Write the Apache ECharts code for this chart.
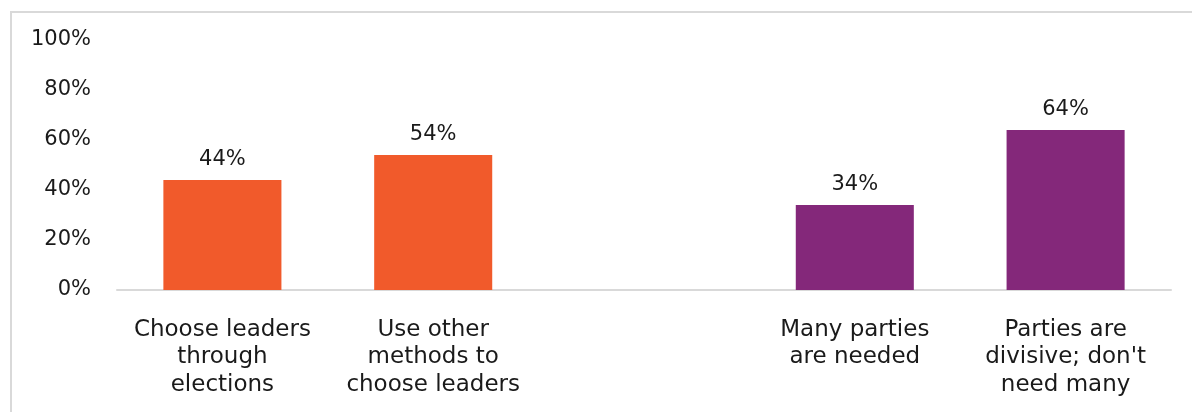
<!DOCTYPE html>
<html>
<head>
<meta charset="utf-8">
<script src="https://cdn.jsdelivr.net/npm/echarts@6/dist/echarts.min.js"></script>
<style>
  html, body { margin: 0; padding: 0; background: #fff; }
  #frame { position: absolute; left: 10px; top: 11px; width: 1200px; height: 420px;
           border-left: 2px solid #d9d9d9; border-top: 2px solid #d9d9d9; box-sizing: border-box; }
  #chart { position: absolute; left: 0; top: 0; width: 1192px; height: 412px; }
</style>
</head>
<body>
<div id="frame"></div>
<div id="chart"></div>
<script>
// Survey answers, two questions side by side with an empty slot between them
const categories = [
  'Choose leaders\nthrough\nelections',
  'Use other\nmethods to\nchoose leaders',
  '',
  'Many parties\nare needed',
  "Parties are\ndivisive; don't\nneed many"
];
const values = [44, 54, null, 34, 64];
const barColors = ['#F15A2B', '#F15A2B', '#F15A2B', '#84287A', '#84287A'];
const yTicks = [0, 20, 40, 60, 80, 100];

const font = 'DejaVu Sans';
const chart = echarts.init(document.getElementById('chart'), null, { renderer: 'canvas' });
chart.setOption({
  animation: false,
  grid: { left: 117, right: 21, top: 40, bottom: 122, containLabel: false },
  xAxis: {
    type: 'category',
    data: categories,
    axisLine: { lineStyle: { color: '#d9d9d9', width: 2 } },
    axisTick: { show: false },
    axisLabel: {
      interval: 0, margin: 26, color: '#1a1a1a',
      fontFamily: font, fontSize: 23, lineHeight: 27.5
    }
  },
  yAxis: {
    type: 'value', min: yTicks[0], max: yTicks[yTicks.length - 1], interval: 20,
    axisLine: { show: false }, axisTick: { show: false }, splitLine: { show: false },
    axisLabel: {
      margin: 26, color: '#1a1a1a', fontFamily: font, fontSize: 21,
      padding: [4, 0, 0, 0],
      formatter: v => v + '%'
    }
  },
  series: [{
    type: 'bar',
    barWidth: '56%',
    data: values.map((v, i) => ({ value: v, itemStyle: { color: barColors[i] } })),
    label: {
      show: true, position: 'top', distance: 10, color: '#1a1a1a',
      fontFamily: font, fontSize: 21,
      formatter: p => p.value + '%'
    }
  }]
});
</script>
</body>
</html>
